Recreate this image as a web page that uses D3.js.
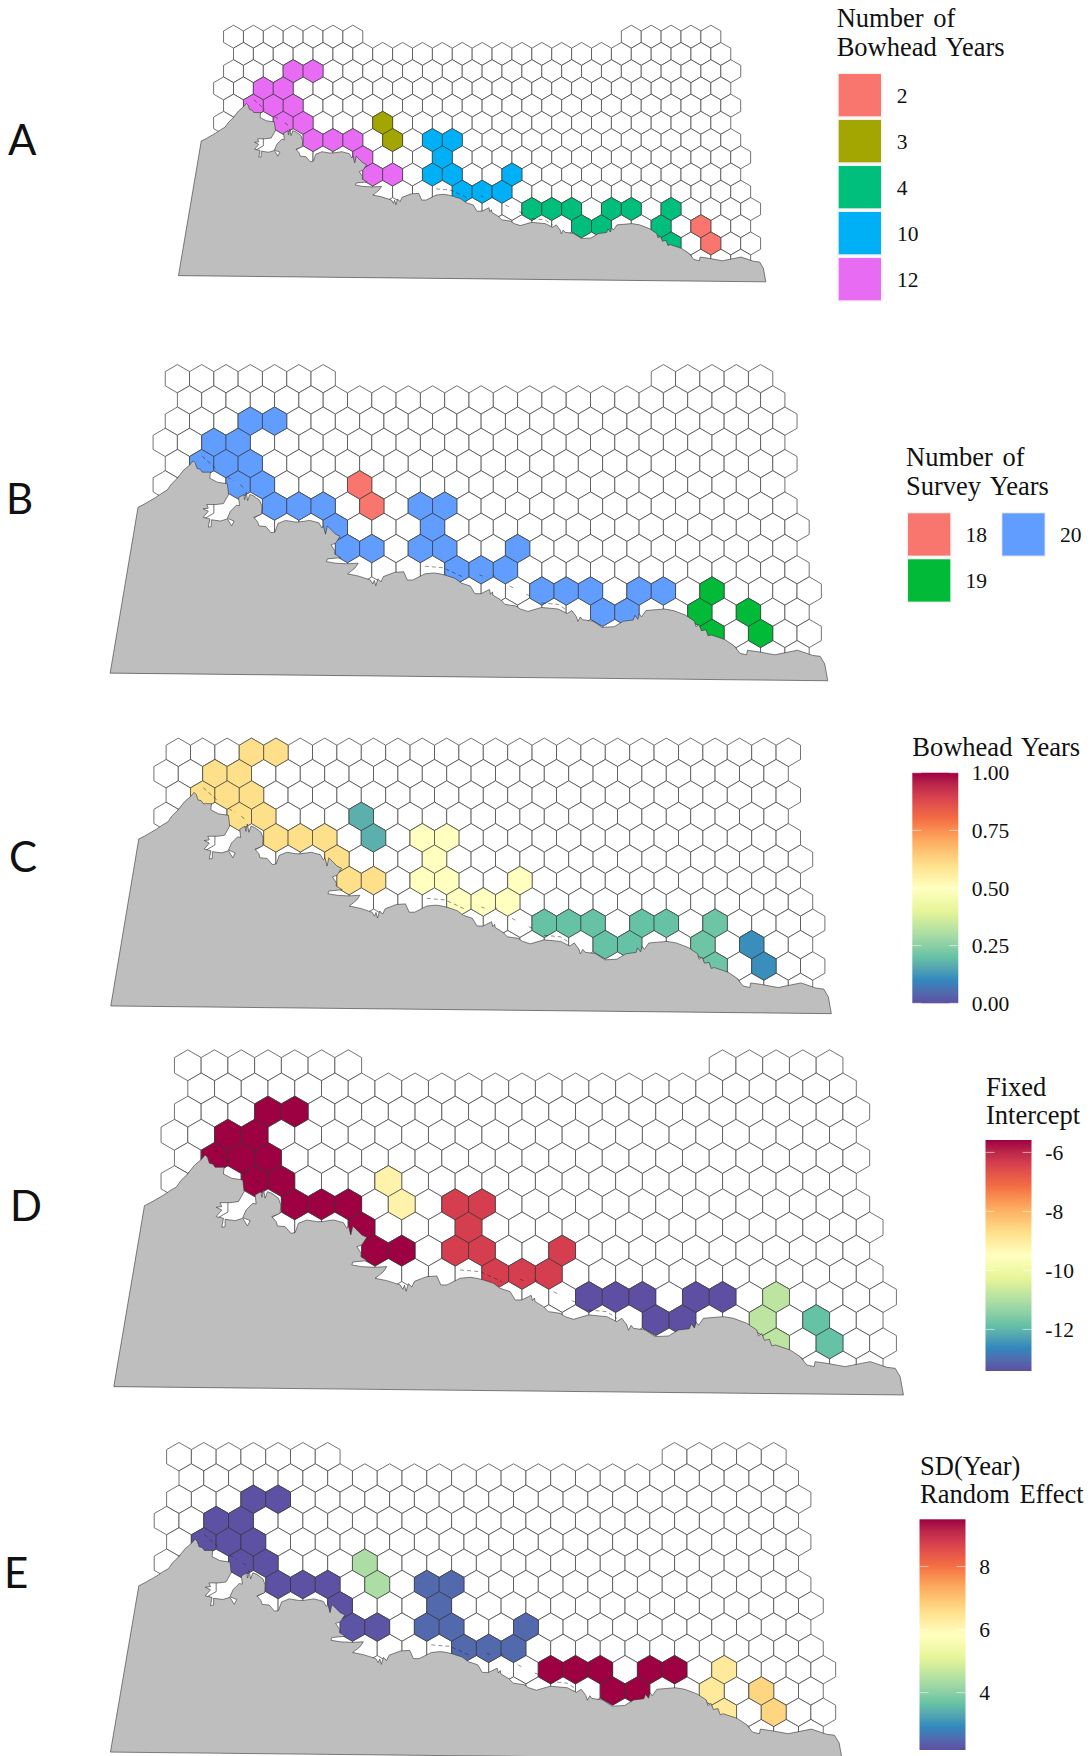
<!DOCTYPE html>
<html>
<head>
<meta charset="utf-8">
<script src="https://cdn.jsdelivr.net/npm/d3@7"></script>
<style>
  body { margin: 0; background: #fff; }
  text { font-family: "Liberation Serif", serif; fill: #111; }
  .letter { font-family: Lato, "Open Sans", sans-serif; font-size: 42px; }
</style>
</head>
<body>
<script>
var width = 1091,
    height = 1756;

// survey grid: for each row, spans of doubled column numbers (odd rows sit half a cell over)
var gridSpans = [
  [[0, 12], [40, 48]],
  [[1, 49]],
  [[0, 50]],
  [[-1, 49]],
  [[0, 50]],
  [[-1, 49]],
  [[2, 2], [8, 50]],
  [[7, 51]],
  [[14, 50]],
  [[15, 51]],
  [[24, 52]],
  [[27, 51]],
  [[44, 52]],
  [[47, 51]]
];

// cells with bowhead sightings
var cellCol = [6, 8, 3, 5, 2, 4, 6, 5, 7, 8, 10, 12, 13, 14, 16,
  15, 16,
  20, 22, 21, 20, 22, 23, 25, 27, 28,
  30, 32, 34, 35, 37, 38, 40,
  43, 44, 44,
  47, 48];
var cellRow = [2, 2, 3, 3, 4, 4, 4, 5, 5, 6, 6, 6, 7, 8, 8,
  5, 6,
  6, 6, 7, 8, 8, 9, 9, 9, 8,
  10, 10, 10, 11, 11, 10, 10,
  11, 10, 12,
  11, 12];
var bowheadYears = [12, 12, 12, 12, 12, 12, 12, 12, 12, 12, 12, 12, 12, 12, 12,
  3, 3,
  10, 10, 10, 10, 10, 10, 10, 10, 10,
  4, 4, 4, 4, 4, 4, 4,
  4, 4, 4,
  2, 2];
var surveyYears = [20, 20, 20, 20, 20, 20, 20, 20, 20, 20, 20, 20, 20, 20, 20,
  18, 18,
  20, 20, 20, 20, 20, 20, 20, 20, 20,
  20, 20, 20, 20, 20, 20, 20,
  19, 19, 19,
  19, 19];
var bowheadShare = [0.6, 0.6, 0.6, 0.6, 0.6, 0.6, 0.6, 0.6, 0.6, 0.6, 0.6, 0.6, 0.6, 0.6, 0.6,
  0.17, 0.17,
  0.5, 0.5, 0.5, 0.5, 0.5, 0.5, 0.5, 0.5, 0.5,
  0.2, 0.2, 0.2, 0.2, 0.2, 0.2, 0.2,
  0.21, 0.21, 0.21,
  0.11, 0.11];
var fixedIntercept = [-5.58, -5.58, -5.58, -5.58, -5.58, -5.58, -5.58, -5.58, -5.58, -5.58, -5.58, -5.58, -5.58, -5.58, -5.58,
  -9.18, -9.18,
  -6.36, -6.36, -6.36, -6.36, -6.36, -6.36, -6.36, -6.36, -6.36,
  -13.41, -13.41, -13.41, -13.41, -13.41, -13.41, -13.41,
  -10.83, -10.83, -10.83,
  -11.84, -11.84];
var sdYear = [2.2, 2.2, 2.2, 2.2, 2.2, 2.2, 2.2, 2.2, 2.2, 2.2, 2.2, 2.2, 2.2, 2.25, 2.25,
  4.38, 4.38,
  2.5, 2.5, 2.5, 2.5, 2.5, 2.5, 2.5, 2.5, 2.5,
  9.5, 9.5, 9.5, 9.5, 9.5, 9.5, 9.5,
  6.35, 6.35, 6.35,
  6.72, 6.72];

// coastline and land edge in map units (mapPerCol units = 1 column, mapPerRow units = 1 row)
var mapPerCol = 40.11,
    mapPerRow = 69.51;
var coast = [[-222, 964], [-130, 421], [-110, 411], [-72, 389], [-53, 376], [-34, 365], [-20, 345], [-3, 329],
  [20, 300], [40, 283], [52, 269], [59, 276], [65, 294], [75, 296], [82, 306], [109, 306], [107, 326],
  [132, 339], [165, 344], [169, 379], [152, 409], [127, 412], [97, 412], [102, 424], [85, 426], [102, 434],
  [85, 454], [107, 459], [102, 486], [112, 484], [112, 462], [142, 466], [165, 459], [179, 482], [187, 466],
  [165, 457], [175, 434], [195, 414], [205, 416], [202, 389], [219, 379], [222, 396], [227, 372], [232, 399],
  [239, 379], [252, 384], [272, 399], [279, 419], [277, 444], [252, 454], [265, 469], [269, 482], [292, 484],
  [309, 504], [322, 502], [332, 474], [357, 464], [387, 469], [402, 469], [437, 464], [467, 472], [477, 489],
  [482, 482], [489, 509], [495, 482], [522, 509], [537, 516], [522, 539], [507, 544], [520, 564], [519, 574],
  [539, 586], [495, 590], [492, 599], [522, 604], [559, 606], [597, 604], [587, 619], [575, 629], [562, 639],
  [597, 646], [637, 659], [645, 672], [650, 660], [655, 678], [662, 655], [672, 665], [680, 648], [717, 634],
  [747, 632], [759, 659], [777, 659], [807, 644], [817, 639],
  [847, 636], [867, 639], [887, 644], [917, 654], [937, 669], [967, 679], [982, 704], [1002, 704], [1022, 694],
  [1030, 690], [1034, 706], [1040, 698], [1042, 709], [1067, 724], [1082, 739], [1117, 744], [1132, 754],
  [1157, 762], [1202, 749], [1257, 754], [1287, 769], [1302, 759], [1317, 779], [1322, 795], [1330, 780],
  [1337, 789], [1372, 794], [1402, 814], [1442, 812], [1472, 794], [1505, 790], [1510, 775], [1520, 788],
  [1525, 770], [1532, 780], [1547, 759], [1607, 754], [1637, 759], [1677, 774], [1707, 794], [1712, 812],
  [1722, 805], [1730, 825], [1745, 822], [1752, 842], [1762, 839],
  [1807, 854], [1837, 874], [1857, 899], [1879, 904], [1882, 889], [1917, 894], [1972, 904], [2047, 889],
  [2077, 899], [2097, 906], [2122, 909], [2137, 934], [2147, 989]];

// small islands along the coast
var islands = [
  [[82, 254], [127, 294]],
  [[165, 322], [187, 334]],
  [[207, 347], [222, 359]],
  [[817, 614], [877, 619], [942, 649]],
  [[997, 642], [1007, 646]],
  [[1042, 642], [1049, 649]],
  [[1097, 679], [1117, 689]],
  [[1152, 706], [1167, 712]],
  [[1202, 734], [1257, 739], [1287, 759]]
];

var letters = ["A", "B", "C", "D", "E"];

var yearsCats = [2, 3, 4, 10, 12];
var yearsColors = ["#F8766D", "#A3A500", "#00BF7D", "#00B0F6", "#E76BF3"];
var surveyCats = [18, 19, 20];
var surveyColors = ["#F8766D", "#00BA38", "#619CFF"];

var spectral = ["#5e4fa2", "#3288bd", "#66c2a5", "#abdda4", "#e6f598", "#ffffbf", "#fee08b", "#fdae61", "#f46d43", "#d53e4f", "#9e0142"];

var shareTicks = [0, 0.25, 0.5, 0.75, 1],
    shareTickLabels = ["0.00", "0.25", "0.50", "0.75", "1.00"];
var interceptTicks = [-12, -10, -8, -6];
var sdTicks = [4, 6, 8];

function ramp(lo, hi) {
  return d3.scaleLinear()
    .domain(spectral.map(function(c, i) { return lo + i * (hi - lo) / 10; }))
    .range(spectral)
    .interpolate(d3.interpolateLab);
}

var yearsColor = d3.scaleOrdinal(yearsCats, yearsColors),
    surveyColor = d3.scaleOrdinal(surveyCats, surveyColors),
    shareColor = ramp(0, 1),
    interceptColor = ramp(-13.41, -5.58),
    sdColor = ramp(2.18, 9.5);

var panels = [
  {x0: 233.5, colW: 9.945, y0: 36.7, rowH: 17.23, firstRow: 0, values: bowheadYears, color: yearsColor, lx: 8, ly: 155},
  {x0: 177.4, colW: 12.15, y0: 378.7, rowH: 21.23, firstRow: 0, values: surveyYears, color: surveyColor, lx: 6, ly: 514},
  {x0: 178.3, colW: 12.2, y0: 709.6, rowH: 21.37, firstRow: 2, values: bowheadShare, color: shareColor, lx: 9, ly: 872},
  {x0: 187.8, colW: 13.37, y0: 1065.3, rowH: 23.17, firstRow: 0, values: fixedIntercept, color: interceptColor, lx: 10, ly: 1221},
  {x0: 179, colW: 12.39, y0: 1456.7, rowH: 21.3, firstRow: 0, values: sdYear, color: sdColor, lx: 4, ly: 1588}
];

var svg = d3.select("body").append("svg")
    .attr("width", width)
    .attr("height", height)
    .style("display", "block");

var defs = svg.append("defs");

var gridCells = [];
gridSpans.forEach(function(spans, r) {
  spans.forEach(function(s) {
    for (var q = s[0]; q <= s[1]; q += 2) gridCells.push({q: q, r: r});
  });
});

var seaLine = "#444";

panels.forEach(function(p, i) {
  var x = d3.scaleLinear().domain([0, 52]).range([p.x0, p.x0 + 52 * p.colW]),
      y = d3.scaleLinear().domain([0, 13]).range([p.y0, p.y0 + 13 * p.rowH]);

  var hexLine = d3.line()
    .x(function(d) { return x(d[0]); })
    .y(function(d) { return y(d[1]); })
    .curve(d3.curveLinearClosed);

  function hexPath(q, r) {
    return hexLine([[q, r - 2 / 3], [q + 1, r - 1 / 3], [q + 1, r + 1 / 3], [q, r + 2 / 3], [q - 1, r + 1 / 3], [q - 1, r - 1 / 3]]);
  }

  var g = svg.append("g").attr("class", "panel");

  g.append("g").selectAll("path")
    .data(gridCells.filter(function(d) { return d.r >= p.firstRow; }))
    .enter().append("path")
    .attr("d", function(d) { return hexPath(d.q, d.r); })
    .attr("fill", "#fff")
    .attr("stroke", seaLine)
    .attr("stroke-width", 0.75);

  g.append("g").selectAll("path")
    .data(cellCol)
    .enter().append("path")
    .attr("d", function(d, j) { return hexPath(d, cellRow[j]); })
    .attr("fill", function(d, j) { return p.color(p.values[j]); })
    .attr("stroke", "#333")
    .attr("stroke-width", 0.6);

  var mapLine = d3.line()
    .x(function(d) { return x(d[0] / mapPerCol); })
    .y(function(d) { return y(d[1] / mapPerRow); });

  g.append("path")
    .attr("d", mapLine(coast) + "Z")
    .attr("fill", "#bebebe")
    .attr("stroke", "#333")
    .attr("stroke-width", 0.6)
    .attr("stroke-linejoin", "round");

  g.append("g").selectAll("path")
    .data(islands)
    .enter().append("path")
    .attr("d", mapLine)
    .attr("fill", "none")
    .attr("stroke", "#222")
    .attr("stroke-width", 0.5)
    .attr("stroke-dasharray", "4 3");

  svg.append("text")
    .attr("class", "letter")
    .attr("x", p.lx)
    .attr("y", p.ly)
    .text(letters[i]);
});

function title(lines, x, baselines) {
  lines.forEach(function(t, i) {
    svg.append("text")
      .attr("x", x)
      .attr("y", baselines[i])
      .style("font-size", "26.5px")
      .style("word-spacing", "3px")
      .text(t);
  });
}

function swatch(color, x, y, label, lx) {
  svg.append("rect")
    .attr("x", x - 1.5).attr("y", y - 1.5)
    .attr("width", 45.3).attr("height", 45.3)
    .attr("fill", "#f2f2f2");
  svg.append("rect")
    .attr("x", x).attr("y", y)
    .attr("width", 42.3).attr("height", 42.3)
    .attr("fill", color);
  svg.append("text")
    .attr("x", lx)
    .attr("y", y + 28.5)
    .style("font-size", "21.5px")
    .text(label);
}

// panel A legend
title(["Number of", "Bowhead Years"], 836.7, [27.3, 56]);
var keyY = d3.scalePoint().domain(yearsCats).range([74, 258]);
yearsCats.forEach(function(c) {
  swatch(yearsColor(c), 838.7, keyY(c), c, c < 10 ? 896.7 : 897);
});

// panel B legend
title(["Number of", "Survey Years"], 906, [466, 495.3]);
swatch(surveyColor(18), 908, 513.3, 18, 965.5);
swatch(surveyColor(19), 908, 559.3, 19, 965.5);
swatch(surveyColor(20), 1002.3, 513.3, 20, 1060);

function colorBar(id, color, lo, hi, x, top, bottom, ticks, labels, labelX, shiftY) {
  var scale = d3.scaleLinear().domain([lo, hi]).range([bottom, top]);
  var grad = defs.append("linearGradient")
    .attr("id", id)
    .attr("x1", 0).attr("x2", 0).attr("y1", 1).attr("y2", 0);
  d3.range(0, 1.001, 0.05).forEach(function(t) {
    grad.append("stop")
      .attr("offset", t)
      .attr("stop-color", color(lo + t * (hi - lo)));
  });
  svg.append("rect")
    .attr("x", x).attr("y", top)
    .attr("width", 46).attr("height", bottom - top)
    .attr("fill", "url(#" + id + ")");
  ticks.forEach(function(t, i) {
    [x, x + 37].forEach(function(tx) {
      svg.append("line")
        .attr("x1", tx).attr("x2", tx + 9)
        .attr("y1", scale(t)).attr("y2", scale(t))
        .attr("stroke", "#fff")
        .attr("stroke-opacity", 0.7)
        .attr("stroke-width", 0.8);
    });
    svg.append("text")
      .attr("x", labelX)
      .attr("y", scale(t) + shiftY)
      .style("font-size", "21.5px")
      .text(labels[i]);
  });
}

// panel C legend
title(["Bowhead Years"], 912.3, [756]);
colorBar("shareBar", shareColor, 0, 1, 912.3, 772.7, 1003.3, shareTicks, shareTickLabels, 971.7, 7.6);

// panel D legend
title(["Fixed", "Intercept"], 986, [1095.7, 1124]);
colorBar("interceptBar", interceptColor, -13.41, -5.58, 985.5, 1140, 1371, interceptTicks, interceptTicks, 1045.3, 7.6);

// panel E legend
title(["SD(Year)", "Random Effect"], 920, [1475, 1503.3]);
colorBar("sdBar", sdColor, 2.18, 9.5, 919.5, 1519.3, 1750, sdTicks, sdTicks, 979.3, 7.8);
</script>
</body>
</html>
